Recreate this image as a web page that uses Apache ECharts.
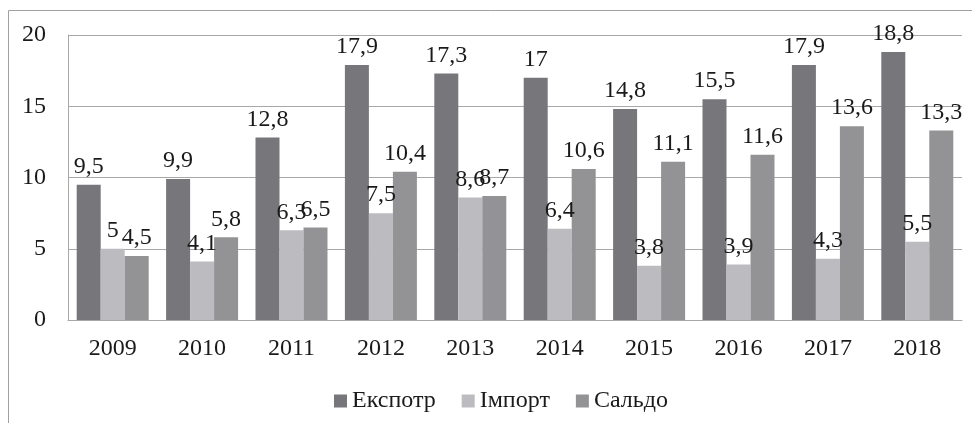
<!DOCTYPE html>
<html>
<head>
<meta charset="utf-8">
<script src="https://cdn.jsdelivr.net/npm/echarts@6/dist/echarts.min.js"></script>
<style>html,body{margin:0;padding:0;background:#fff;}#c{width:972px;height:423px;}</style>
</head>
<body>
<div id="c"></div>
<script>
var years = ['2009','2010','2011','2012','2013','2014','2015','2016','2017','2018'];
var exportVals = [9.5, 9.9, 12.8, 17.9, 17.3, 17, 14.8, 15.5, 17.9, 18.8];
var importVals = [5, 4.1, 6.3, 7.5, 8.6, 6.4, 3.8, 3.9, 4.3, 5.5];
var saldoVals = [4.5, 5.8, 6.5, 10.4, 8.7, 10.6, 11.1, 11.6, 13.6, 13.3];
var seriesNames = ['Експотр', 'Імпорт', 'Сальдо'];

var FONT = 'Liberation Serif';
var chart = echarts.init(document.getElementById('c'), null, {renderer: 'canvas'});
function mk(name, data, color) {
  return {
    name: name, type: 'bar', data: data,
    barWidth: 24, barGap: '0%',
    itemStyle: {color: color},
    label: {
      show: true, position: 'top', distance: 6,
      fontFamily: FONT, fontSize: 24, color: '#1a1a1a',
      formatter: function (p) { return String(p.value).replace('.', ','); }
    }
  };
}
chart.setOption({
  animation: false,
  textStyle: {fontFamily: FONT},
  graphic: [{
    type: 'rect', silent: true,
    shape: {x: 8.5, y: 10.5, width: 1200, height: 1000},
    style: {fill: 'none', stroke: '#a0a0a0', lineWidth: 1}
  }],
  grid: {left: 68, right: 10, top: 35, bottom: 103},
  legend: {
    left: 329, top: 384, itemWidth: 13, itemHeight: 13, itemGap: 26,
    icon: 'rect',
    textStyle: {fontFamily: FONT, fontSize: 24, color: '#1a1a1a'},
    data: seriesNames
  },
  xAxis: {
    type: 'category', data: years,
    axisLine: {lineStyle: {color: '#a8a8a8', width: 1}},
    axisTick: {show: false},
    axisLabel: {fontFamily: FONT, fontSize: 24, color: '#1a1a1a', margin: 17}
  },
  yAxis: {
    type: 'value', min: 0, max: 20, interval: 5,
    axisLine: {show: true, lineStyle: {color: '#a8a8a8', width: 1}},
    axisTick: {show: false},
    splitLine: {lineStyle: {color: '#a8a8a8', width: 1}},
    axisLabel: {fontFamily: FONT, fontSize: 24, color: '#1a1a1a', margin: 22}
  },
  series: [
    mk(seriesNames[0], exportVals, '#77777b'),
    mk(seriesNames[1], importVals, '#bcbcc0'),
    mk(seriesNames[2], saldoVals, '#939396')
  ]
});
</script>
</body>
</html>
